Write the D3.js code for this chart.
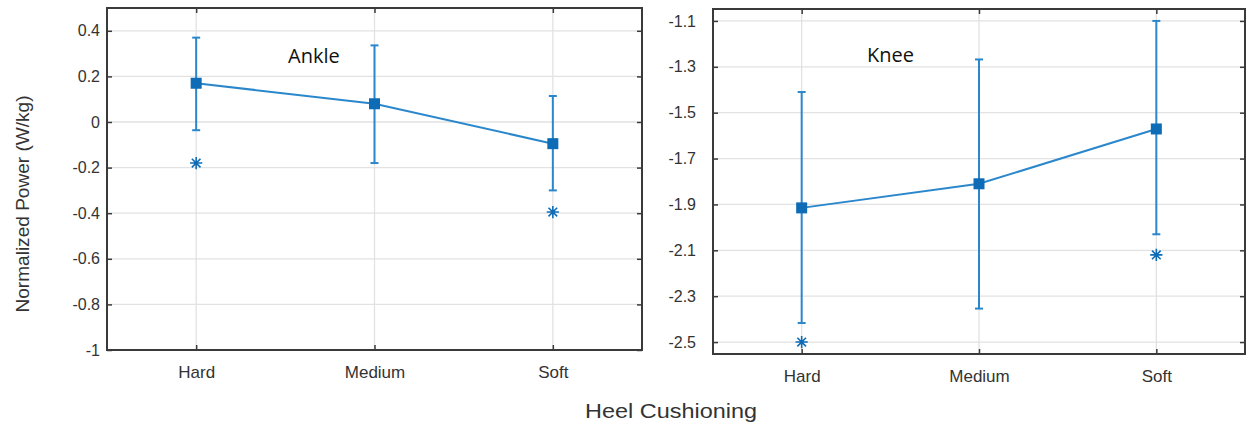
<!DOCTYPE html>
<html>
<head>
<meta charset="utf-8">
<script src="https://cdn.jsdelivr.net/npm/d3@7"></script>
<style>
  body { margin: 0; background: #fff; }
  svg { display: block; }
</style>
</head>
<body>
<svg id="chart" width="1250" height="431"></svg>
<script>
const categories = ["Hard", "Medium", "Soft"];

// ankle panel
const ankleMean = [0.17, 0.08, -0.095];
const ankleHi = [0.37, 0.336, 0.114];
const ankleLo = [-0.036, -0.18, -0.30];
const ankleStar = [-0.18, null, -0.395];
const ankleTicks = [0.4, 0.2, 0, -0.2, -0.4, -0.6, -0.8, -1];

// knee panel
const kneeMean = [-1.915, -1.81, -1.571];
const kneeHi = [-1.41, -1.268, -1.10];
const kneeLo = [-2.417, -2.354, -2.03];
const kneeStar = [-2.50, null, -2.12];
const kneeTicks = [-1.1, -1.3, -1.5, -1.7, -1.9, -2.1, -2.3, -2.5];

const lineColor = "#2b87cc";
const markColor = "#0e6cb6";
const frameColor = "#3a3a3a";
const gridColor = "#e2e2e2";
const textColor = "#333";

const svg = d3.select("#chart");

// matlab style '*' marker: plus and cross overlaid
const matlabStar = {
  draw(ctx, size) {
    const r = Math.sqrt(size) / 2;
    const q = r * Math.SQRT1_2;
    ctx.moveTo(0, -r); ctx.lineTo(0, r);
    ctx.moveTo(-r, 0); ctx.lineTo(r, 0);
    ctx.moveTo(-q, -q); ctx.lineTo(q, q);
    ctx.moveTo(-q, q); ctx.lineTo(q, -q);
  }
};

const panels = [
  {left: 107, right: 642, top: 8, bottom: 350, domain: [-1, 0.5],
   mean: ankleMean, hi: ankleHi, lo: ankleLo, star: ankleStar, ticks: ankleTicks,
   title: "Ankle", titleX: 288, titleY: 63, yPad: 7},
  {left: 713, right: 1245, top: 9, bottom: 354, domain: [-2.552, -1.048],
   mean: kneeMean, hi: kneeHi, lo: kneeLo, star: kneeStar, ticks: kneeTicks,
   title: "Knee", titleX: 867, titleY: 62, yPad: 17}
];

const drawPanel = (p) => {
  const g = svg.append("g");
  const x = d3.scaleLinear().domain([0.5, 3.5]).range([p.left, p.right]);
  const y = d3.scaleLinear().domain(p.domain).range([p.bottom, p.top]);
  const idx = [1, 2, 3];

  // grid
  g.selectAll(".hgrid").data(p.ticks).enter().append("line")
    .attr("x1", p.left).attr("x2", p.right)
    .attr("y1", d => y(d)).attr("y2", d => y(d))
    .attr("stroke", gridColor).attr("stroke-width", 1.3);
  g.selectAll(".vgrid").data(idx).enter().append("line")
    .attr("x1", d => x(d)).attr("x2", d => x(d))
    .attr("y1", p.top).attr("y2", p.bottom)
    .attr("stroke", gridColor).attr("stroke-width", 1.3);

  // axes with inward ticks on all four sides
  const yAxis = d3.axisLeft(y).tickValues(p.ticks).tickSize(-5).tickPadding(p.yPad)
    .tickFormat(d => String(+d.toFixed(1)));
  const yg = g.append("g").attr("transform", `translate(${p.left},0)`).call(yAxis);
  const yAxisR = d3.axisRight(y).tickValues(p.ticks).tickSize(-5).tickFormat("");
  const yr = g.append("g").attr("transform", `translate(${p.right},0)`).call(yAxisR);
  const xAxis = d3.axisBottom(x).tickValues(idx).tickSize(-5).tickPadding(16)
    .tickFormat(d => categories[d - 1]);
  const xg = g.append("g").attr("transform", `translate(0,${p.bottom})`).call(xAxis);
  const xAxisT = d3.axisTop(x).tickValues(idx).tickSize(-5).tickFormat("");
  const xt = g.append("g").attr("transform", `translate(0,${p.top})`).call(xAxisT);

  [yg, yr, xg, xt].forEach(a => {
    a.select(".domain").remove();
    a.selectAll(".tick line").attr("stroke", frameColor).attr("stroke-width", 1.5);
    a.selectAll("text").attr("fill", textColor)
      .style("font-family", "'Liberation Sans', Arial, sans-serif")
      .style("font-size", "16px");
  });
  xg.selectAll("text").style("font-size", "17px");

  // frame
  g.append("rect")
    .attr("x", p.left).attr("y", p.top)
    .attr("width", p.right - p.left).attr("height", p.bottom - p.top)
    .attr("fill", "none").attr("stroke", frameColor).attr("stroke-width", 2);

  // error bars
  const eb = g.selectAll(".eb").data(idx).enter().append("g");
  eb.append("line")
    .attr("x1", d => x(d)).attr("x2", d => x(d))
    .attr("y1", d => y(p.hi[d - 1])).attr("y2", d => y(p.lo[d - 1]))
    .attr("stroke", lineColor).attr("stroke-width", 2);
  eb.append("line")
    .attr("x1", d => x(d) - 4).attr("x2", d => x(d) + 4)
    .attr("y1", d => y(p.hi[d - 1])).attr("y2", d => y(p.hi[d - 1]))
    .attr("stroke", lineColor).attr("stroke-width", 2);
  eb.append("line")
    .attr("x1", d => x(d) - 4).attr("x2", d => x(d) + 4)
    .attr("y1", d => y(p.lo[d - 1])).attr("y2", d => y(p.lo[d - 1]))
    .attr("stroke", lineColor).attr("stroke-width", 2);

  // mean line
  const line = d3.line().x(d => x(d)).y(d => y(p.mean[d - 1]));
  g.append("path").datum(idx).attr("d", line)
    .attr("fill", "none").attr("stroke", lineColor).attr("stroke-width", 2);

  // square markers
  g.selectAll(".sq").data(idx).enter().append("rect")
    .attr("x", d => x(d) - 5.5).attr("y", d => y(p.mean[d - 1]) - 5.5)
    .attr("width", 11).attr("height", 11)
    .attr("fill", markColor);

  // asterisks for significance
  const star = d3.symbol().type(matlabStar).size(150);
  g.selectAll(".star").data(idx.filter(d => p.star[d - 1] !== null)).enter().append("path")
    .attr("d", star)
    .attr("transform", d => `translate(${x(d)},${y(p.star[d - 1])})`)
    .attr("fill", "none").attr("stroke", markColor).attr("stroke-width", 1.6);

  // panel title
  g.append("text").attr("x", p.titleX).attr("y", p.titleY).text(p.title)
    .attr("fill", "#111")
    .style("font-family", "'Open Sans', Carlito, sans-serif")
    .style("font-size", "20px");
};

panels.forEach(drawPanel);

// shared axis labels
svg.append("text")
  .attr("transform", "translate(29,204) rotate(-90)")
  .attr("text-anchor", "middle")
  .attr("fill", textColor)
  .attr("textLength", 217).attr("lengthAdjust", "spacingAndGlyphs")
  .style("font-family", "'Liberation Sans', Arial, sans-serif")
  .style("font-size", "18px")
  .text("Normalized Power (W/kg)");

svg.append("text")
  .attr("x", 671).attr("y", 418)
  .attr("text-anchor", "middle")
  .attr("fill", textColor)
  .attr("textLength", 172).attr("lengthAdjust", "spacingAndGlyphs")
  .style("font-family", "'Liberation Sans', Arial, sans-serif")
  .style("font-size", "21px")
  .text("Heel Cushioning");
</script>
</body>
</html>
